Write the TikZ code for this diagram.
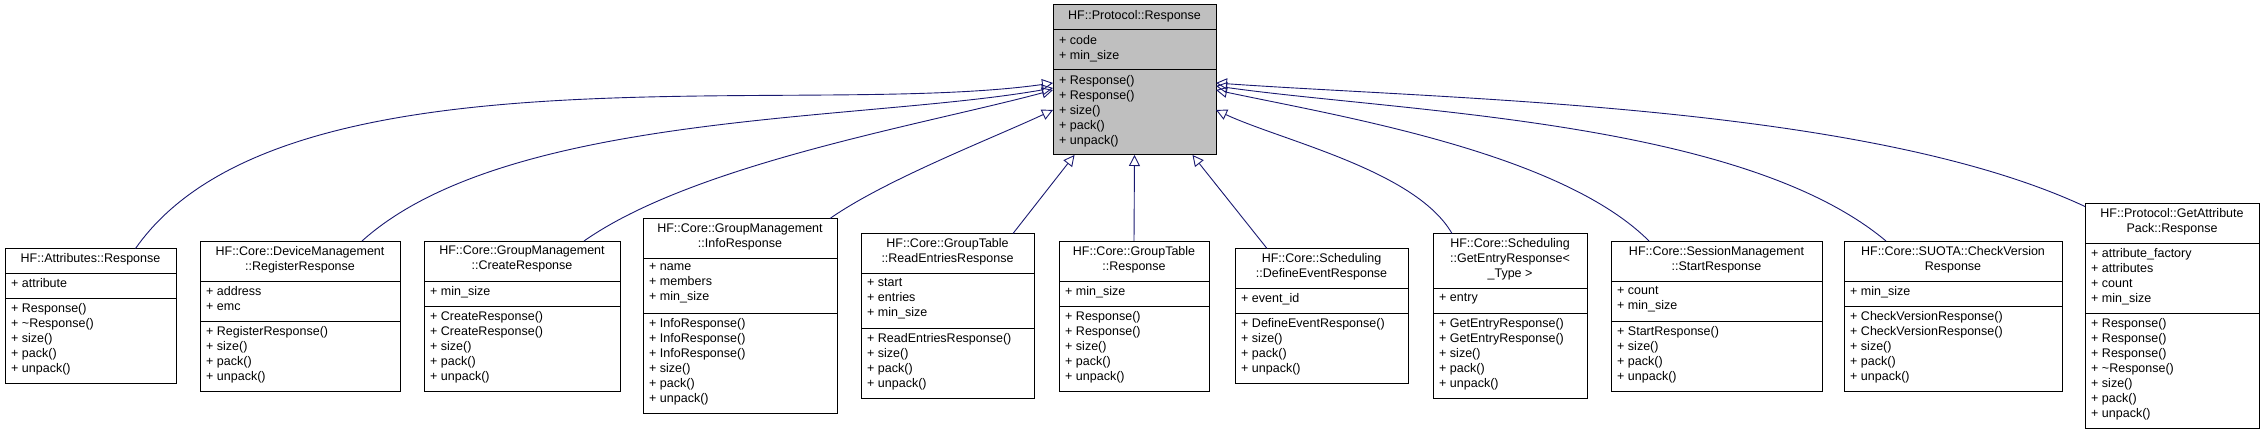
\documentclass[tikz,border=0pt]{standalone}
\usepackage{fontspec}
\setmainfont{Liberation Sans}
\usepackage{tikz}
\usetikzlibrary{arrows.meta,positioning}
\definecolor{edgeblue}{RGB}{25,25,112}
\definecolor{basegray}{RGB}{191,191,191}
\tikzset{
every node/.style={inner sep=0pt, font=\fontsize{12.5}{15}\selectfont},
classbox/.style={draw=black, line width=1pt, inner sep=0pt, outer sep=0pt},
inherit/.style={draw=edgeblue, line width=0.9pt, -{Triangle[open,length=11pt,width=11pt]}}, % inheritance edges
}
% #1 name, #2 left, #3 right, #4 top, #5 title lines, #6 attr lines, #7 title, #8 attrs, #9 methods
\newcommand{\classbox}[9]{
    \pgfmathsetmacro\cbA{#4+15*#5+10}
    \pgfmathsetmacro\cbB{\cbA+15*#6+10}
    \pgfmathsetmacro\cbBot{2*\rowmid-#4}
    \pgfmathsetmacro\cbW{#3-#2}
    \pgfmathsetmacro\cbH{\cbBot-#4}
    \node[classbox, fill=\boxfill, anchor=north west, minimum width=\cbW pt, minimum height=\cbH pt] (#1) at (#2,#4) {};
    \draw[line width=1pt] (#2,\cbA) -- (#3,\cbA);
    \draw[line width=1pt] (#2,\cbB) -- (#3,\cbB);
    \node[anchor=north, align=center] at ({(#2+#3)/2},#4+5) {#7};
    \node[anchor=north west, align=left] at (#2+6,\cbA+5) {#8};
    \node[anchor=north west, align=left] at (#2+6,\cbB+5) {#9};
}
\begin{document}
\begin{tikzpicture}[x=1pt, y=-1pt]
    \useasboundingbox (0,0) rectangle (2265,433);
    % base class
    \def\rowmid{80}
    \def\boxfill{basegray}
    \classbox{base}{1053}{1216}{5}{1}{2}{HF::Protocol::Response}{+ code\\+ min\_size}{+ Response()\\+ Response()\\+ size()\\+ pack()\\+ unpack()}
    % derived classes
    \def\rowmid{316}
    \def\boxfill{white}
    \classbox{attrresp}{5}{176}{248.5}{1}{1}{HF::Attributes::Response}{+ attribute}{+ Response()\\+ \textasciitilde Response()\\+ size()\\+ pack()\\+ unpack()}
    \classbox{regresp}{200}{400}{241}{2}{2}{HF::Core::DeviceManagement\\::RegisterResponse}{+ address\\+ emc}{+ RegisterResponse()\\+ size()\\+ pack()\\+ unpack()}
    \classbox{createresp}{424}{620}{241}{2}{1}{HF::Core::GroupManagement\\::CreateResponse}{+ min\_size}{+ CreateResponse()\\+ CreateResponse()\\+ size()\\+ pack()\\+ unpack()}
    \classbox{inforesp}{643}{837}{218.5}{2}{3}{HF::Core::GroupManagement\\::InfoResponse}{+ name\\+ members\\+ min\_size}{+ InfoResponse()\\+ InfoResponse()\\+ InfoResponse()\\+ size()\\+ pack()\\+ unpack()}
    \classbox{readresp}{861}{1034}{233.5}{2}{3}{HF::Core::GroupTable\\::ReadEntriesResponse}{+ start\\+ entries\\+ min\_size}{+ ReadEntriesResponse()\\+ size()\\+ pack()\\+ unpack()}
    \classbox{tableresp}{1059}{1209}{241}{2}{1}{HF::Core::GroupTable\\::Response}{+ min\_size}{+ Response()\\+ Response()\\+ size()\\+ pack()\\+ unpack()}
    \classbox{defresp}{1235}{1408}{248.5}{2}{1}{HF::Core::Scheduling\\::DefineEventResponse}{+ event\_id}{+ DefineEventResponse()\\+ size()\\+ pack()\\+ unpack()}
    \classbox{entryresp}{1433}{1587}{233.5}{3}{1}{HF::Core::Scheduling\\::GetEntryResponse<\\\_Type >}{+ entry}{+ GetEntryResponse()\\+ GetEntryResponse()\\+ size()\\+ pack()\\+ unpack()}
    \classbox{startresp}{1611}{1822}{241}{2}{2}{HF::Core::SessionManagement\\::StartResponse}{+ count\\+ min\_size}{+ StartResponse()\\+ size()\\+ pack()\\+ unpack()}
    \classbox{versresp}{1844}{2062}{241}{2}{1}{HF::Core::SUOTA::CheckVersion\\Response}{+ min\_size}{+ CheckVersionResponse()\\+ CheckVersionResponse()\\+ size()\\+ pack()\\+ unpack()}
    \classbox{packresp}{2085}{2259}{203.5}{2}{4}{HF::Protocol::GetAttribute\\Pack::Response}{+ attribute\_factory\\+ attributes\\+ count\\+ min\_size}{+ Response()\\+ Response()\\+ Response()\\+ \textasciitilde Response()\\+ size()\\+ pack()\\+ unpack()}
    % inheritance
    \draw[inherit] ([xshift=45pt]attrresp.north) to[out=55, in=188, looseness=0.7] ([yshift=-3pt]base.west);
    \draw[inherit] ([xshift=62pt]regresp.north) to[out=42, in=190, looseness=0.7] ([yshift=-8pt]base.west);
    \draw[inherit] ([xshift=62pt]createresp.north) to[out=35, in=195, looseness=0.7] ([yshift=-10pt]base.west);
    \draw[inherit] ([xshift=-7pt]inforesp.north east) to[out=35, in=205, looseness=0.7] ([yshift=-30pt]base.west);
    \draw[inherit] ([xshift=-21pt]readresp.north east) -- ([xshift=-60pt]base.south);
    \draw[inherit] (tableresp.north) -- (base.south);
    \draw[inherit] ([xshift=32pt]defresp.north west) -- ([xshift=58pt]base.south);
    \draw[inherit] ([xshift=19pt]entryresp.north west) to[out=120, in=-25, looseness=0.7] ([yshift=-30pt]base.east);
    \draw[inherit] ([xshift=38pt]startresp.north west) to[out=135, in=-12, looseness=0.7] ([yshift=-10pt]base.east);
    \draw[inherit] ([xshift=42pt]versresp.north west) to[out=140, in=-8, looseness=0.7] ([yshift=-6pt]base.east);
    \draw[inherit] ([yshift=-3pt]packresp.north west) to[out=155, in=-4, looseness=0.7] ([yshift=-3pt]base.east);
\end{tikzpicture}
\end{document}
